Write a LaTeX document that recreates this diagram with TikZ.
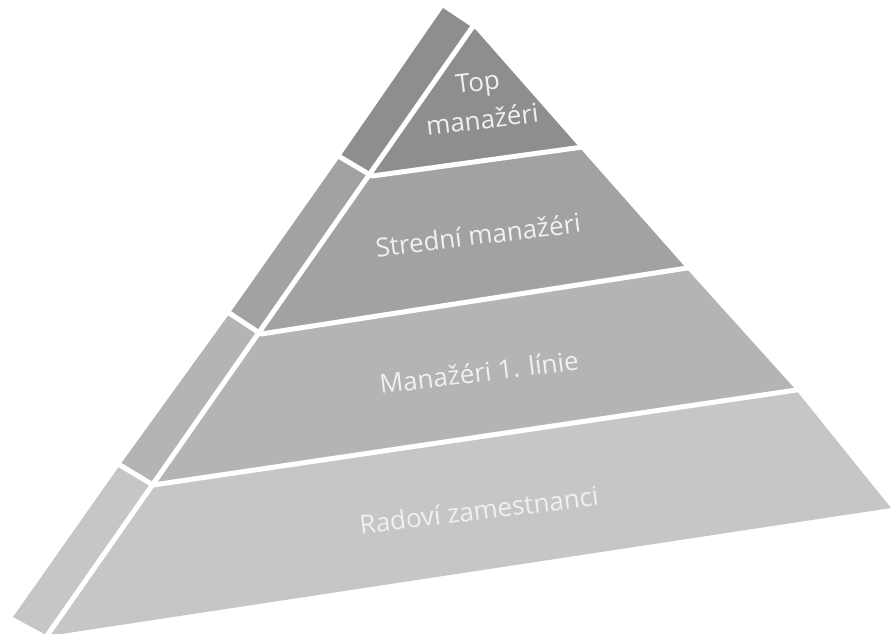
\documentclass[tikz,border=0pt]{standalone}
\usepackage{fontspec}
\setmainfont{Open Sans}
\usepackage{tikz}
\definecolor{lvlA}{HTML}{8E8E8E}
\definecolor{lvlB}{HTML}{A2A2A2}
\definecolor{lvlC}{HTML}{B4B4B4}
\definecolor{lvlD}{HTML}{C6C6C6}
\definecolor{lbl}{HTML}{F0F0F0}
\begin{document}
\begin{tikzpicture}[x=1pt,y=-1pt,
		gap/.style={white,line width=5pt,line join=round},
		lvltext/.style={text=lbl,rotate=7,align=center,font=\fontsize{26}{38}\selectfont}]
			\useasboundingbox (0,0) rectangle (891,634);
			
			\fill[lvlA] (443,8) -- (476,30) -- (579,147) -- (372,176) -- (340,157) -- cycle;
			\fill[lvlB] (340,157) -- (372,176) -- (579,147) -- (686,268) -- (261,334) -- (230,313) -- cycle;
			\fill[lvlC] (230,313) -- (261,334) -- (686,268) -- (796,390) -- (153,485) -- (120,465) -- cycle;
			\fill[lvlD] (120,465) -- (153,485) -- (796,390) -- (891,508) -- (48,636) -- (13,617) -- cycle;
			
			\draw[gap] (476,22) -- (44,640);
			\draw[gap] (330,151) -- (372,176) -- (590,146);
			\draw[gap] (220,307) -- (261,334) -- (700,266);
			\draw[gap] (110,459) -- (153,485) -- (810,388);
			
			\node[lvltext] (top) at (480,101) {Top\\manažéri};
			\node[lvltext] (mid) at (478,235) {Strední manažéri};
			\node[lvltext] (first) at (479,372) {Manažéri 1. línie};
			\node[lvltext] (staff) at (479,510) {Radoví zamestnanci};
		\end{tikzpicture}
\end{document}
